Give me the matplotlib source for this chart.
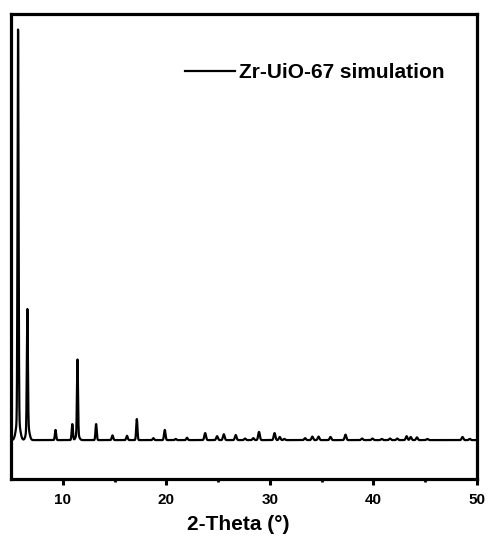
import numpy as np
import matplotlib
matplotlib.use("Agg")
import matplotlib.pyplot as plt

plt.rcParams['font.family'] = ['Liberation Sans', 'DejaVu Sans']

# Peak positions (2-theta, deg), relative intensities and widths (deg)
peak_pos = [5.68, 5.68, 6.58, 6.62, 9.30, 10.92, 11.42, 11.42, 13.22, 14.80, 16.20, 17.15,
            18.75, 19.85, 20.90, 22.00, 23.75, 24.90, 25.55, 26.70, 27.60, 28.40,
            28.95, 30.45, 30.95, 31.40, 33.40, 34.10, 34.70, 35.85, 37.30, 38.90,
            39.90, 40.80, 41.60, 42.30, 43.20, 43.60, 44.20, 45.20, 48.60, 49.30]
peak_int = [100.0, 5.5, 30.3, 3.5, 2.6, 4.1, 19.2, 1.5, 4.1, 1.2, 1.1, 5.4,
            0.5, 2.6, 0.3, 0.6, 1.8, 1.0, 1.5, 1.3, 0.4, 0.5,
            2.1, 1.8, 0.8, 0.3, 0.5, 0.9, 0.9, 0.8, 1.4, 0.4,
            0.4, 0.3, 0.4, 0.4, 1.0, 0.8, 0.7, 0.3, 0.8, 0.3]
peak_wid = [0.05, 0.18, 0.05, 0.15, 0.06, 0.06, 0.05, 0.15, 0.06, 0.07, 0.07, 0.06,
            0.07, 0.07, 0.07, 0.07, 0.08, 0.08, 0.08, 0.08, 0.08, 0.08,
            0.08, 0.08, 0.08, 0.08, 0.08, 0.08, 0.08, 0.08, 0.08, 0.08,
            0.08, 0.08, 0.08, 0.08, 0.08, 0.08, 0.08, 0.08, 0.08, 0.08]

x_ticks = [10, 20, 30, 40, 50]
series_label = "Zr-UiO-67 simulation"

two_theta = np.linspace(5, 50, 9001)
intensity = np.zeros_like(two_theta)
for p, h, w in zip(peak_pos, peak_int, peak_wid):
    intensity += h * np.exp(-0.5 * ((two_theta - p) / w) ** 2)

fig = plt.figure(figsize=(4.88, 5.40), dpi=100)
ax = fig.add_axes([11/488, 1 - 479/540, 466/488, 465/540])

ax.plot(two_theta, intensity, color='black', lw=1.6, label=series_label)

ax.set_xlim(5, 50)
ax.set_ylim(-10.0, 109.5)
ax.set_xticks(x_ticks)
ax.set_xticks([15, 25, 35, 45], minor=True)
ax.set_yticks([])

for s in ax.spines.values():
    s.set_linewidth(2.3)

ax.tick_params(axis='x', which='major', direction='out', length=4, width=2.2,
               pad=6, labelsize=11)
ax.tick_params(axis='x', which='minor', direction='out', length=2.5, width=2.0)
for lab in ax.get_xticklabels():
    lab.set_fontweight('bold')

ax.set_xlabel("2-Theta (\u00b0)", fontsize=15, fontweight='bold')
ax.xaxis.set_label_coords((238 - 11) / 466, -(525 - 479) / 465)
ax.xaxis.label.set_va('center')

leg = ax.legend(loc='center left', bbox_to_anchor=((185 - 11) / 466, (479 - 73) / 465),
                frameon=False, borderpad=0, borderaxespad=0, handlelength=2.4,
                handletextpad=0.2, prop={'weight': 'bold', 'size': 15})

fig.savefig("out.png", dpi=100)
